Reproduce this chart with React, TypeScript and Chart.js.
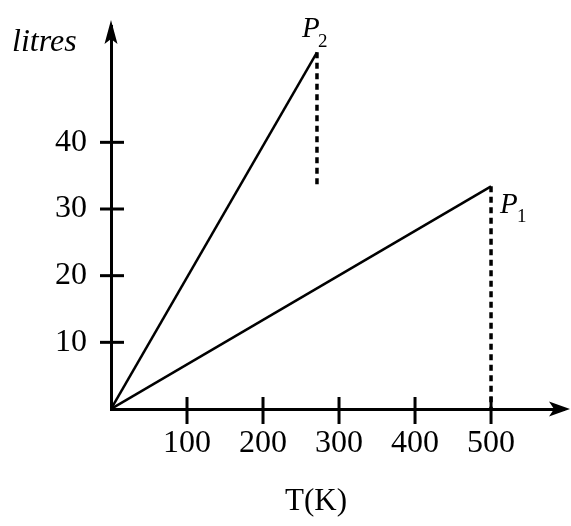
import React, { useEffect, useRef } from "react";
import { Chart, registerables } from "chart.js";

Chart.register(...registerables);

// ---- data ----
const xTickValues = [100, 200, 300, 400, 500];
const yTickValues = [10, 20, 30, 40];
const lineP1 = [
  { x: 0, y: 0 },
  { x: 500, y: 33.4 },
];
const lineP2 = [
  { x: 0, y: 0 },
  { x: 271, y: 53.5 },
];
const dropP1 = [
  { x: 500, y: 33.4 },
  { x: 500, y: 0 },
];
const dropP2 = [
  { x: 271, y: 53.5 },
  { x: 271, y: 33.6 },
];
const xTitle = "T(K)";
const yTitle = "litres";
const X_MAX = 596;
const Y_MAX = 57.45;

const SERIF = '"Liberation Serif", "Times New Roman", serif';

const decorPlugin = {
  id: "decor",
  afterDraw(chart: any) {
    const ctx = chart.ctx;
    const xs = chart.scales.x;
    const ys = chart.scales.y;
    const ca = chart.chartArea;
    const ox = xs.getPixelForValue(0);
    const oy = ys.getPixelForValue(0);
    ctx.save();
    ctx.strokeStyle = "#000";
    ctx.fillStyle = "#000";
    ctx.lineWidth = 3;
    ctx.lineCap = "butt";
    // tick marks crossing the axes
    xTickValues.forEach((v) => {
      const p = xs.getPixelForValue(v);
      ctx.beginPath();
      ctx.moveTo(p, oy - 12);
      ctx.lineTo(p, oy + 15);
      ctx.stroke();
    });
    yTickValues.forEach((v) => {
      const p = ys.getPixelForValue(v);
      ctx.beginPath();
      ctx.moveTo(ox - 11, p);
      ctx.lineTo(ox + 13, p);
      ctx.stroke();
    });
    // arrow heads
    const tipY = ca.top - 6;
    ctx.beginPath();
    ctx.moveTo(ox, tipY);
    ctx.lineTo(ox + 6.5, tipY + 24);
    ctx.lineTo(ox, tipY + 19);
    ctx.lineTo(ox - 6.5, tipY + 24);
    ctx.closePath();
    ctx.fill();
    const tipX = ca.right + 6;
    ctx.beginPath();
    ctx.moveTo(tipX, oy);
    ctx.lineTo(tipX - 21, oy - 7.5);
    ctx.lineTo(tipX - 16, oy);
    ctx.lineTo(tipX - 21, oy + 7.5);
    ctx.closePath();
    ctx.fill();

    // axis titles
    ctx.textBaseline = "alphabetic";
    ctx.font = `italic 32px ${SERIF}`;
    ctx.textAlign = "left";
    ctx.fillText(yTitle, 12, 51);
    ctx.font = `31px ${SERIF}`;
    ctx.textAlign = "center";
    ctx.fillText(xTitle, 316, 510);

    // point labels
    const p2 = lineP2[lineP2.length - 1];
    const p2x = xs.getPixelForValue(p2.x);
    const p2y = ys.getPixelForValue(p2.y);
    ctx.textAlign = "left";
    ctx.font = `italic 29px ${SERIF}`;
    ctx.fillText("P", p2x - 15, p2y - 15);
    ctx.font = `19px ${SERIF}`;
    ctx.fillText("2", p2x + 1, p2y - 5);

    const p1 = lineP1[lineP1.length - 1];
    const p1x = xs.getPixelForValue(p1.x);
    const p1y = ys.getPixelForValue(p1.y);
    ctx.font = `italic 29px ${SERIF}`;
    ctx.fillText("P", p1x + 9, p1y + 27);
    ctx.font = `19px ${SERIF}`;
    ctx.fillText("1", p1x + 26, p1y + 36);
    ctx.restore();
  },
};

const zeroPad = (s: any) => {
  s.paddingTop = 0;
  s.paddingBottom = 0;
  s.paddingLeft = 0;
  s.paddingRight = 0;
};

export default function App() {
  const ref = useRef<HTMLCanvasElement | null>(null);
  useEffect(() => {
    if (!ref.current) return;
    const solid = { borderColor: "#000", borderWidth: 2.5, pointRadius: 0, showLine: true, fill: false };
    const dashed = { ...solid, borderWidth: 3.5, borderDash: [6, 4.5] };
    const chart = new Chart(ref.current, {
      type: "scatter",
      data: {
        datasets: [
          { label: "P1", data: lineP1, ...solid },
          { label: "P2", data: lineP2, ...solid },
          { label: "P1 drop", data: dropP1, ...dashed },
          { label: "P2 drop", data: dropP2, ...dashed },
        ] as any,
      },
      options: {
        responsive: false,
        maintainAspectRatio: false,
        devicePixelRatio: 1,
        animation: false,
        layout: { padding: { left: 0, top: 26, right: 7, bottom: 0 } },
        plugins: { legend: { display: false }, tooltip: { enabled: false } },
        scales: {
          x: {
            type: "linear",
            min: 0,
            max: X_MAX,
            afterBuildTicks: (s: any) => {
              s.ticks = xTickValues.map((v) => ({ value: v }));
            },
            afterFit: (s: any) => {
              s.height = 117;
              zeroPad(s);
            },
            grid: { display: false, drawTicks: false },
            border: { display: true, color: "#000", width: 3 },
            ticks: {
              autoSkip: false,
              maxRotation: 0,
              color: "#000",
              padding: 15,
              font: { family: SERIF, size: 32 },
            },
          },
          y: {
            type: "linear",
            min: 0,
            max: Y_MAX,
            afterBuildTicks: (s: any) => {
              s.ticks = yTickValues.map((v) => ({ value: v }));
            },
            afterFit: (s: any) => {
              s.width = 111;
              zeroPad(s);
            },
            grid: { display: false, drawTicks: false },
            border: { display: true, color: "#000", width: 3 },
            ticks: {
              autoSkip: false,
              color: "#000",
              padding: 24,
              font: { family: SERIF, size: 32 },
            },
          },
        },
      } as any,
      plugins: [decorPlugin],
    });
    return () => chart.destroy();
  }, []);
  return (
    <div style={{ position: "absolute", left: 0, top: 0, width: 571, height: 526, background: "#fff" }}>
      <canvas ref={ref} width={571} height={526} style={{ display: "block" }} />
    </div>
  );
}
